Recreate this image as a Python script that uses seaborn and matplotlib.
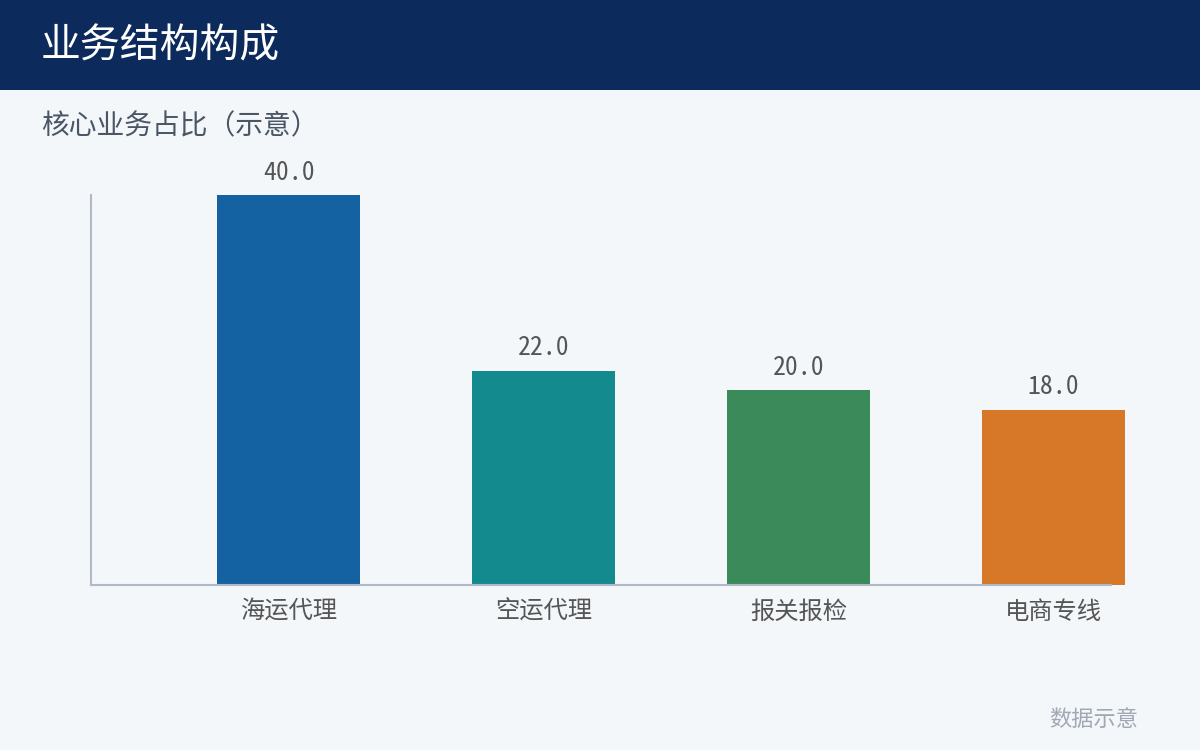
import matplotlib
matplotlib.use("Agg")
import matplotlib.pyplot as plt
import matplotlib.patches as patches
import seaborn as sns
import pandas as pd

categories = ["海运代理", "空运代理", "报关报检", "电商专线"]
values = [40.0, 22.0, 20.0, 18.0]
bar_colors = ["#1562a3", "#128a8e", "#3a8a5a", "#d67828"]

title = "业务结构构成"
subtitle = "核心业务占比（示意）"
footer = "数据示意"

sns.set_theme(style="white")
plt.rcParams['font.family'] = ['Noto Sans CJK SC', 'DejaVu Sans']

df = pd.DataFrame({"cat": categories, "val": values})

fig = plt.figure(figsize=(12, 7.5), dpi=100)
fig.patch.set_facecolor("#f4f7fa")

# header band
fig.patches.append(patches.Rectangle((0, 1 - 90 / 750), 1, 90 / 750, transform=fig.transFigure,
                                     facecolor="#0c2a5b", edgecolor="none", zorder=0))
fig.text(41 / 1200, 1 - 46 / 750, title, color="white", fontsize=28.7, va="center", ha="left")
fig.text(41 / 1200, 1 - 126 / 750, subtitle, color="#4a5565", fontsize=20, va="center", ha="left")
fig.text(1138 / 1200, 1 - 720 / 750, footer, color="#a0a8b4", fontsize=16, va="center", ha="right")

ax = fig.add_axes([91 / 1200, 1 - 585 / 750, 1020 / 1200, 390 / 750])
ax.set_facecolor("#f4f7fa")
sns.barplot(data=df, x="cat", y="val", hue="cat", palette=bar_colors, legend=False,
            width=0.56, saturation=1, ax=ax)
for p in ax.patches:
    p.set_clip_on(False)
    p.set_linewidth(0)

for i, v in enumerate(values):
    ax.annotate(f"{v:.1f}", (i, v), xytext=(0, 7.5), textcoords="offset points",
                ha="center", va="bottom", fontsize=18.5, color="#555555", annotation_clip=False,
                family=['Noto Sans Mono CJK SC', 'Noto Sans CJK SC'])

ax.set_xlim(-0.775, 3.225)
ax.set_ylim(0, 40)
ax.set_xlabel("")
ax.set_ylabel("")
ax.set_yticks([])
ax.tick_params(axis="x", length=0, pad=10, labelsize=17.5, labelcolor="#555555")
for s in ["top", "right"]:
    ax.spines[s].set_visible(False)
for s in ["left", "bottom"]:
    ax.spines[s].set_color("#b0bac6")
    ax.spines[s].set_linewidth(1.5)

plt.savefig("out.png", dpi=100, facecolor=fig.get_facecolor())
